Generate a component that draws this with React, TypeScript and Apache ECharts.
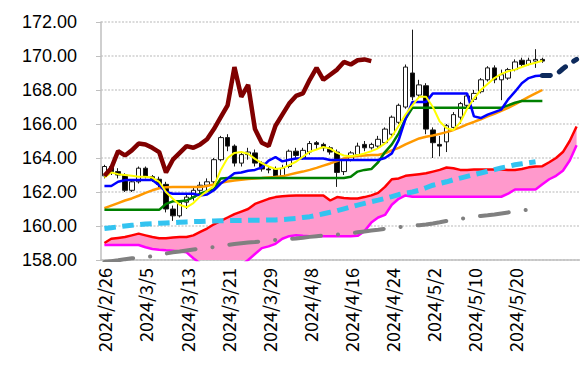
import React, { useEffect, useRef } from "react";
import * as echarts from "echarts";

const dates = [
  "2024/2/26", "2024/2/27", "2024/2/28", "2024/2/29", "2024/3/1", "2024/3/4", "2024/3/5", "2024/3/6", "2024/3/7", "2024/3/8",
  "2024/3/11", "2024/3/12", "2024/3/13", "2024/3/14", "2024/3/15", "2024/3/18", "2024/3/19", "2024/3/20", "2024/3/21", "2024/3/22",
  "2024/3/25", "2024/3/26", "2024/3/27", "2024/3/28", "2024/3/29", "2024/4/1", "2024/4/2", "2024/4/3", "2024/4/4", "2024/4/5",
  "2024/4/8", "2024/4/9", "2024/4/10", "2024/4/11", "2024/4/12", "2024/4/15", "2024/4/16", "2024/4/17", "2024/4/18", "2024/4/19",
  "2024/4/22", "2024/4/23", "2024/4/24", "2024/4/25", "2024/4/26", "2024/4/29", "2024/4/30", "2024/5/1", "2024/5/2", "2024/5/3",
  "2024/5/6", "2024/5/7", "2024/5/8", "2024/5/9", "2024/5/10", "2024/5/13", "2024/5/14", "2024/5/15", "2024/5/16", "2024/5/17",
  "2024/5/20", "2024/5/21", "2024/5/22", "2024/5/23", "2024/5/24",
];
const futureLabels = ["", "", "", "", ""];
const categories = [...dates, ...futureLabels];

// OHLC
const opens = [
  162.95, 163.5, 163.2, 163.0, 162.1, 162.6, 163.4, 162.9, 162.75, 162.45,
  161.0, 160.6, 161.4, 161.7, 162.1, 162.4, 162.6, 163.9, 165.2, 164.7,
  163.7, 164.2, 164.3, 163.7, 163.35, 163.35, 162.95, 163.5, 164.4, 164.0,
  164.35, 164.9, 164.8, 164.6, 164.35, 163.2, 163.9, 164.2, 164.8, 164.6,
  164.7, 164.9, 165.4, 166.1, 167.0, 169.0, 167.7, 168.25, 165.65, 164.8,
  164.95, 165.8, 166.4, 167.1, 167.45, 167.9, 168.6, 169.3, 168.6, 168.7,
  169.2, 169.75, 169.5, 169.7, 169.8,
];
const closes = [
  163.5, 163.2, 163.0, 162.1, 162.6, 163.4, 162.9, 162.75, 162.45, 161.0,
  160.6, 161.4, 161.7, 162.1, 162.4, 162.6, 163.9, 165.2, 164.7, 163.7,
  164.2, 164.35, 163.7, 163.35, 163.3, 162.95, 163.4, 164.4, 164.15, 164.45,
  164.85, 164.8, 164.6, 164.35, 163.15, 163.9, 164.3, 164.7, 164.6, 164.8,
  165.1, 165.7, 166.4, 167.1, 169.35, 167.6, 168.3, 165.7, 164.9, 164.7,
  165.9, 166.55, 167.2, 167.65, 167.8, 168.6, 169.3, 168.6, 168.9, 169.2,
  169.65, 169.5, 169.75, 169.8, 169.7,
];
const lows = [
  162.8, 163.0, 162.8, 162.0, 162.0, 162.5, 162.8, 162.6, 162.2, 160.8,
  160.3, 160.5, 161.0, 161.5, 161.9, 162.1, 162.3, 163.8, 164.4, 163.5,
  163.5, 163.9, 163.5, 163.2, 163.1, 162.8, 162.9, 163.4, 164.0, 163.9,
  164.2, 164.5, 164.4, 164.2, 162.3, 163.0, 163.8, 164.1, 164.4, 164.5,
  164.6, 164.8, 165.3, 166.0, 166.9, 167.4, 167.5, 165.4, 164.0, 164.1,
  164.35, 165.6, 166.0, 166.9, 167.3, 167.8, 168.5, 168.4, 167.4, 168.6,
  169.1, 169.4, 169.45, 169.3, 169.6,
];
const highs = [
  163.6, 163.6, 163.4, 163.1, 162.7, 163.5, 163.5, 163.0, 162.9, 162.6,
  161.2, 161.5, 161.9, 162.3, 162.6, 162.8, 164.0, 165.3, 165.4, 164.8,
  164.4, 164.6, 164.5, 163.8, 163.5, 163.5, 163.6, 164.5, 164.6, 164.6,
  165.0, 165.0, 164.9, 164.7, 164.5, 164.0, 164.4, 164.9, 165.0, 164.9,
  165.3, 165.8, 166.5, 167.2, 169.5, 171.55, 168.6, 168.4, 165.8, 165.3,
  166.0, 166.7, 167.3, 167.8, 168.0, 168.7, 169.4, 169.45, 169.2, 169.3,
  169.8, 169.9, 169.9, 170.4, 169.9,
];

// moving averages / ichimoku lines
const shortAvg = [ // yellow
  162.85, 163.15, 163.05, 163.0, 162.95, 162.9, 162.9, 162.85, 162.6, 162.0,
  161.6, 161.25, 161.1, 161.35, 161.75, 162.05, 162.35, 163.3, 164.0, 164.3,
  164.35, 164.25, 163.95, 163.7, 163.5, 163.35, 163.4, 163.58, 163.78, 164.07,
  164.37, 164.5, 164.65, 164.55, 164.3, 164.15, 164.1, 164.17, 164.27, 164.4,
  164.57, 164.86, 165.25, 165.9, 166.55, 167.1, 167.6, 167.6, 167.0, 166.15,
  165.75, 165.65, 166.1, 166.9, 167.5, 168.0, 168.35, 168.7, 168.95, 169.1,
  169.2, 169.35, 169.5, 169.6, 169.72,
];
const tenkan = [ // blue
  162.35, 162.35, 162.6, 162.7, 162.7, 162.7, 162.7, 162.7, 162.4, 162.0,
  161.9, 161.9, 161.9, 161.9, 161.8, 161.85, 162.1, 162.5, 162.8, 163.1,
  163.15, 163.25, 163.3, 163.45, 163.85, 164.05, 163.8, 163.9, 163.97, 163.97,
  163.97, 163.97, 163.97, 163.88, 163.88, 163.88, 163.88, 163.88, 163.88, 163.88,
  163.88, 164.0, 164.27, 165.05, 166.3, 167.3, 167.3, 167.3, 167.8, 167.8,
  167.8, 167.8, 167.8, 167.8, 166.45, 166.35, 166.55, 166.7, 166.85, 167.45,
  167.9, 168.4, 168.7, 168.82, 168.85,
];
const tenkanAhead = [168.85, 168.85, 168.9, 169.25, 169.55, 169.8]; // navy dashed, from index 64
const kijun = [ // green
  160.95, 160.95, 160.95, 160.95, 160.95, 160.95, 160.95, 160.95, 160.95, 161.3,
  161.45, 161.45, 161.5, 161.7, 161.9, 162.05, 162.15, 162.8, 162.82, 162.82,
  162.82, 162.82, 162.82, 162.82, 162.82, 162.82, 162.82, 162.82, 162.82, 162.82,
  162.82, 162.82, 162.82, 162.82, 162.82, 162.82, 162.9, 163.2, 163.3, 163.35,
  163.75, 164.35, 164.8, 165.45, 166.3, 166.95, 166.95, 166.95, 166.95, 166.95,
  166.95, 166.95, 166.95, 166.95, 166.95, 166.95, 166.95, 166.95, 166.95, 167.1,
  167.25, 167.35, 167.35, 167.35, 167.35,
];
const midAvg = [ // orange
  161.05, 161.2, 161.35, 161.5, 161.62, 161.78, 161.95, 162.1, 162.22, 162.28,
  162.3, 162.3, 162.3, 162.3, 162.3, 162.35, 162.45, 162.55, 162.62, 162.68,
  162.72, 162.76, 162.8, 162.82, 162.85, 162.88, 162.92, 163.02, 163.12, 163.2,
  163.3, 163.42, 163.55, 163.68, 163.82, 163.97, 164.08, 164.12, 164.15, 164.17,
  164.18, 164.28, 164.45, 164.6, 164.8, 164.98, 165.15, 165.25, 165.32, 165.42,
  165.52, 165.65, 165.8, 165.98, 166.12, 166.28, 166.45, 166.6, 166.78, 166.95,
  167.15, 167.38, 167.6, 167.8, 168.0,
];
const longAvg = [ // cyan dashed
  159.85, 159.9, 159.95, 160.0, 160.04, 160.08, 160.12, 160.14, 160.16, 160.18,
  160.2, 160.22, 160.24, 160.26, 160.27, 160.29, 160.3, 160.31, 160.32, 160.33,
  160.33, 160.34, 160.34, 160.34, 160.35, 160.36, 160.38, 160.41, 160.44, 160.5,
  160.55, 160.63, 160.72, 160.81, 160.9, 161.01, 161.12, 161.23, 161.33, 161.43,
  161.52, 161.62, 161.73, 161.85, 161.93, 162.0, 162.1, 162.25, 162.4, 162.5,
  162.6, 162.72, 162.82, 162.92, 163.02, 163.12, 163.22, 163.32, 163.42, 163.5,
  163.6, 163.66, 163.72, 163.78,
];
const veryLongAvg = [ // grey dash-dot
  157.88, 157.93, 157.98, 158.05, 158.1, 158.13, 158.16, 158.22, 158.3, 158.38,
  158.45, 158.5, 158.56, 158.62, 158.67, 158.72, 158.76, 158.82, 158.88, 158.94,
  158.99, 159.03, 159.06, 159.1, 159.14, 159.18, 159.21, 159.24, 159.27, 159.31,
  159.36, 159.4, 159.44, 159.47, 159.49, 159.52, 159.57, 159.63, 159.68, 159.73,
  159.78, 159.84, 159.88, 159.93, 159.98, 160.01, 160.05, 160.09, 160.15, 160.22,
  160.3, 160.36, 160.42, 160.48, 160.54, 160.59, 160.63, 160.68, 160.74, 160.8,
  160.86, 160.91, 160.96, 161.0,
];
const senkouA = [ // red
  159.0, 159.25, 159.3, 159.35, 159.45, 159.55, 159.45, 159.35, 159.28, 159.28,
  159.33, 159.35, 159.35, 159.45, 159.65, 159.85, 160.1, 160.3, 160.5, 160.7,
  160.85, 161.0, 161.3, 161.45, 161.6, 161.7, 161.75, 161.78, 161.8, 161.8,
  161.8, 161.8, 161.8, 161.5, 161.7, 161.65, 161.62, 161.62, 161.7, 161.8,
  161.95, 162.3, 162.75, 162.8, 162.95, 163.0, 163.05, 163.1, 163.2, 163.3,
  163.44, 163.4, 163.3, 163.3, 163.32, 163.33, 163.33, 163.33, 163.33, 163.3,
  163.3, 163.35, 163.45, 163.5, 163.52, 163.75, 164.0, 164.35, 165.0, 165.85,
];
const senkouB = [ // magenta
  158.88, 158.88, 158.88, 158.88, 158.88, 158.88, 158.75, 158.65, 158.6, 158.57,
  158.55, 158.5, 158.45, 158.1, 157.8, 157.6, 157.5, 157.45, 157.45, 157.5,
  157.7, 158.0, 158.35, 158.7, 158.8, 158.95, 159.25, 159.4, 159.45, 159.42,
  159.4, 159.4, 159.4, 159.4, 159.4, 159.4, 159.4, 159.42, 159.7, 160.2,
  160.5, 160.65, 161.25, 161.6, 161.8, 161.72, 161.72, 161.72, 161.72, 161.72,
  161.72, 161.72, 161.72, 161.72, 161.72, 161.72, 161.72, 161.72, 161.72, 161.9,
  162.15, 162.15, 162.15, 162.15, 162.45, 162.75, 162.95, 163.25, 163.85, 164.75,
];
const yTicks = { min: 158, max: 172, step: 2 };
const chikouShift = 25;

function buildOption() {
  const candles = dates.map((_, i) => [opens[i], closes[i], lows[i], highs[i]]);
  const chikou = categories.map((_, i) => (i + chikouShift < closes.length ? closes[i + chikouShift] : null));
  const kumoWidth = senkouA.map((a, i) => +(a - senkouB[i]).toFixed(4));
  const startAhead = dates.length - 1;
  const ahead = categories.map((_, i) => (i >= startAhead ? tenkanAhead[i - startAhead] : null));

  const line = (data: any[], color: string, width: number, z: number, extra: any = {}) => ({
    type: "line",
    data,
    symbol: "none",
    silent: true,
    z,
    lineStyle: { color, width, ...extra },
  });

  return {
    animation: false,
    backgroundColor: "#ffffff",
    grid: { left: 101, right: 0, top: 22, bottom: 110, containLabel: false },
    xAxis: {
      type: "category",
      data: categories,
      boundaryGap: true,
      axisLine: { show: true, lineStyle: { color: "#bfbfbf", width: 1.5 } },
      axisTick: { show: false },
      splitLine: { show: false },
      axisLabel: {
        interval: 5,
        rotate: 90,
        margin: 8,
        color: "#000",
        fontSize: 18,
        fontFamily: "'Noto Sans CJK JP', 'Liberation Sans', sans-serif",
      },
    },
    yAxis: {
      type: "value",
      min: yTicks.min,
      max: yTicks.max,
      interval: yTicks.step,
      axisLine: { show: true, lineStyle: { color: "#bfbfbf", width: 1.5 } },
      axisTick: { show: true, length: 5, lineStyle: { color: "#bfbfbf" } },
      axisLabel: {
        margin: 24,
        color: "#000",
        fontSize: 18,
        fontFamily: "'Liberation Sans', Arial, sans-serif",
        formatter: (v: number) => v.toFixed(2),
      },
      splitLine: { show: true, lineStyle: { color: "#d0d0d0", width: 1.5, type: [2, 1.5] } },
    },
    series: [
      {
        type: "line",
        data: senkouB,
        stack: "kumo",
        symbol: "none",
        silent: true,
        z: 1,
        lineStyle: { width: 0, opacity: 0 },
      },
      {
        type: "line",
        data: kumoWidth,
        stack: "kumo",
        symbol: "none",
        silent: true,
        z: 1,
        lineStyle: { width: 0, opacity: 0 },
        areaStyle: { color: "#FF99CC", opacity: 1 },
      },
      line(senkouA, "#FF0000", 2.5, 2),
      line(senkouB, "#FF00FF", 2.5, 2),
      {
        type: "candlestick",
        data: candles,
        barWidth: 5,
        silent: true,
        z: 3,
        itemStyle: {
          color: "#ffffff",
          color0: "#000000",
          borderColor: "#1a1a1a",
          borderColor0: "#1a1a1a",
          borderWidth: 1,
        },
      },
      line(veryLongAvg, "#808080", 4, 4, { type: [29, 17, 0.1, 17], cap: "round" }),
      line(longAvg, "#33C3F0", 5, 4, { type: [11.5, 6.5], cap: "butt" }),
      line(midAvg, "#FF9900", 2.5, 5),
      line(kijun, "#008000", 2.5, 5),
      line(tenkan, "#0000FF", 2.5, 6),
      line(ahead, "#0D2A5C", 5, 6, { type: [8, 10], cap: "round" }),
      line(shortAvg, "#FFFF00", 2, 7),
      line(chikou, "#800000", 4.5, 7),
    ],
  };
}

export default function App() {
  const ref = useRef<HTMLDivElement>(null);
  useEffect(() => {
    if (!ref.current) return;
    const chart = echarts.init(ref.current, null, { renderer: "svg" });
    chart.setOption(buildOption() as any);
    return () => chart.dispose();
  }, []);
  return (
    <div
      ref={ref}
      style={{ position: "absolute", left: 0, top: 0, width: 580, height: 370, background: "#fff" }}
    />
  );
}
